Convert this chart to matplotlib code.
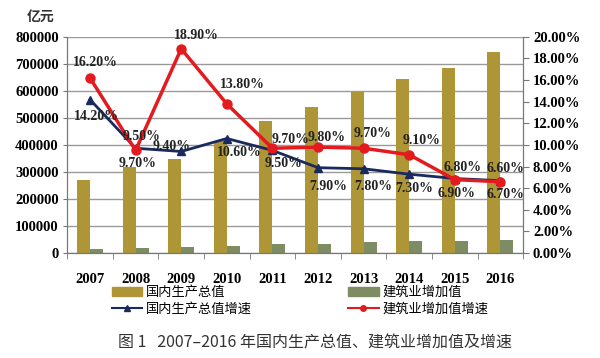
import matplotlib.pyplot as plt
from matplotlib.lines import Line2D
from matplotlib.patches import Patch
import numpy as np

years = ['2007', '2008', '2009', '2010', '2011', '2012', '2013', '2014', '2015', '2016']
gdp = [270000, 319000, 349000, 413000, 489000, 540000, 595000, 643000, 686000, 744000]
construction = [15300, 18700, 22400, 26700, 31900, 35500, 40900, 44900, 46600, 49500]
gdp_growth = [14.2, 9.7, 9.4, 10.6, 9.5, 7.9, 7.8, 7.3, 6.9, 6.7]
con_growth = [16.2, 9.5, 18.9, 13.8, 9.7, 9.8, 9.7, 9.1, 6.8, 6.6]

# label offsets in pixels (dx, dy down)
gdp_offsets = [(6, 17), (2, 15), (-10, -5), (13, 14), (11, 13), (10, 19), (10, 18), (5, 14), (2, 15), (5, 14)]
con_offsets = [(5, -15), (6, -14), (15, -13), (16, -19), (18, -9), (9, -10), (9, -15), (12, -14), (8, -12), (5, -13)]

c_gdp = '#AE9636'
c_con = '#7E8C63'
c_red = '#E31B1F'
c_blue = '#1B2A5E'
serif = 'Liberation Serif'

fig = plt.figure(figsize=(6, 3.58), dpi=100)
ax = fig.add_axes([0.112, 0.293, 0.76, 0.604])
ax2 = ax.twinx()

x = np.arange(len(years))
w = 0.285
ax.bar(x - w / 2, gdp, w, color=c_gdp, zorder=2)
ax.bar(x + w / 2, construction, w, color=c_con, zorder=2)

ax.set_xlim(-0.5, len(years) - 0.5)
ax.set_ylim(0, 800000)
ax.set_yticks(np.arange(0, 800001, 100000))
ax.set_yticklabels([str(v) for v in range(0, 800001, 100000)], fontfamily=serif,
                   fontweight='bold', fontsize=10.5)
ax.yaxis.grid(True, color='#9a9a9a', lw=1, zorder=0)
ax.set_axisbelow(True)
ax.set_xticks(x)
ax.set_xticklabels(years, fontfamily=serif, fontweight='bold', fontsize=10.5)
ax.set_xticks(np.arange(-0.5, len(years), 1), minor=True)
ax.tick_params(axis='x', which='major', length=0, pad=14)
ax.tick_params(axis='x', which='minor', length=4, color='#777777')
ax.tick_params(axis='y', length=3, color='#777777', pad=3)
for s in ['top']:
    ax.spines[s].set_visible(False)
    ax2.spines[s].set_visible(False)
for s in ['left', 'bottom', 'right']:
    ax.spines[s].set_color('#777777')
    ax2.spines[s].set_color('#777777')

ax2.plot(x, gdp_growth, color=c_blue, lw=2, marker='^', ms=5.5, zorder=3)
ax2.plot(x, con_growth, color=c_red, lw=2.5, marker='o', ms=6.5, zorder=4)
ax2.set_ylim(0, 20)
ax2.set_yticks(np.arange(0, 20.1, 2))
ax2.set_yticklabels(['%.2f%%' % v for v in np.arange(0, 20.1, 2)], fontfamily=serif,
                    fontweight='bold', fontsize=10.5)
ax2.tick_params(axis='y', length=4, color='#777777', pad=3)

for i in range(len(years)):
    dx, dy = gdp_offsets[i]
    ax2.annotate('%.2f%%' % gdp_growth[i], (x[i], gdp_growth[i]), xytext=(dx, -dy),
                 textcoords='offset pixels', ha='center', va='center',
                 fontfamily=serif, fontweight='bold', fontsize=10, color='#222222', zorder=5)
    dx, dy = con_offsets[i]
    ax2.annotate('%.2f%%' % con_growth[i], (x[i], con_growth[i]), xytext=(dx, -dy),
                 textcoords='offset pixels', ha='center', va='center',
                 fontfamily=serif, fontweight='bold', fontsize=10, color='#222222', zorder=5)

fig.text(0.045, 0.952, '亿元', fontfamily='Noto Sans CJK SC', fontsize=10,
         fontweight='bold', color='#333333', va='center')

handles = [Patch(color=c_gdp), Line2D([], [], color=c_blue, lw=1.5, marker='^', ms=4),
           Patch(color=c_con), Line2D([], [], color=c_red, lw=1.5, marker='o', ms=4)]
labels = ['国内生产总值', '国内生产总值增速', '建筑业增加值', '建筑业增加值增速']
fig.legend(handles, labels, ncol=2, loc='center left', bbox_to_anchor=(0.175, 0.16),
           frameon=False, prop={'family': 'Noto Sans CJK SC', 'size': 9.5},
           columnspacing=7.3, handlelength=2.3, handletextpad=0.3, labelspacing=0.25,
           borderpad=0)

fig.text(0.525, 0.042, '图 1   2007–2016 年国内生产总值、建筑业增加值及增速',
         fontfamily='Noto Sans CJK SC', fontsize=11.5, color='#333333',
         ha='center', va='center')

fig.savefig('out.png', dpi=100)
